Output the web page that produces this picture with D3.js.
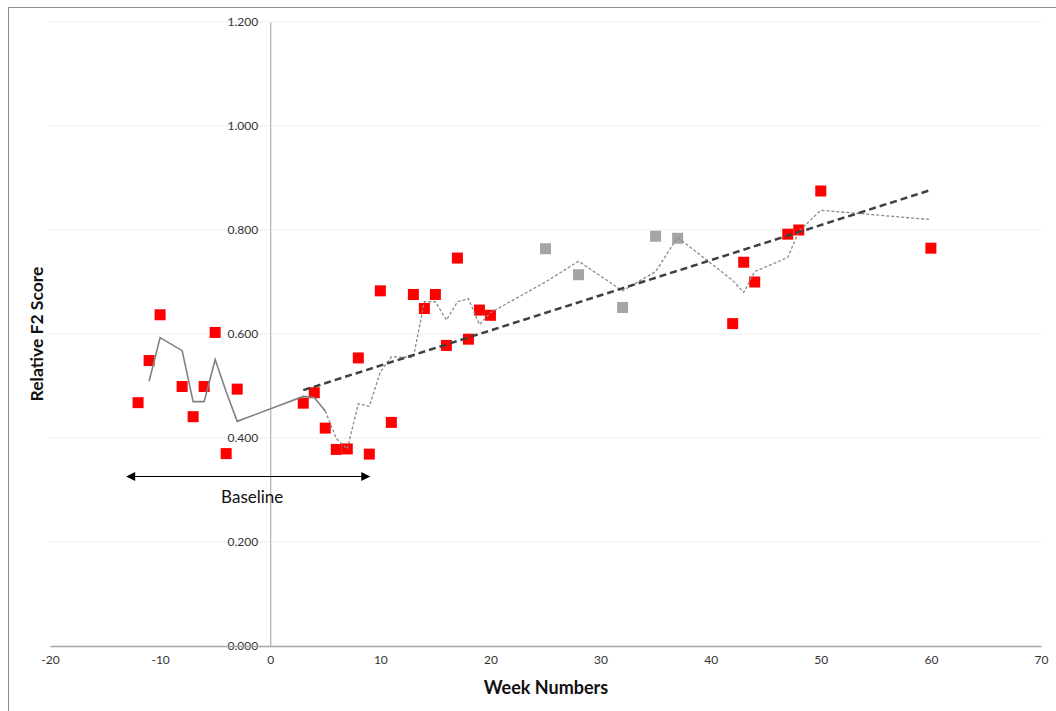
<!DOCTYPE html>
<html>
<head>
<meta charset="utf-8">
<script src="https://cdn.jsdelivr.net/npm/d3@7"></script>
<style>
  html, body { margin: 0; padding: 0; background: #fff; }
  svg { display: block; }
  text { font-family: Lato, "Open Sans", sans-serif; }
</style>
</head>
<body>
<svg id="chart" width="1056" height="711"></svg>
<script>
// ---- data ----
const redWeeks  = [-12, -11, -10, -8, -7, -6, -5, -4, -3, 3, 4, 5, 6, 7, 8, 9, 10, 11, 13, 14, 15, 16, 17, 18, 19, 20, 42, 43, 44, 47, 48, 50, 60];
const redValues = [0.468, 0.549, 0.637, 0.499, 0.441, 0.499, 0.603, 0.370, 0.494, 0.467, 0.487, 0.419, 0.378, 0.379, 0.554, 0.369, 0.683, 0.430, 0.676, 0.649, 0.676, 0.578, 0.746, 0.590, 0.646, 0.636, 0.620, 0.738, 0.700, 0.792, 0.800, 0.875, 0.765];

const grayWeeks  = [25, 28, 32, 35, 37];
const grayValues = [0.764, 0.714, 0.651, 0.788, 0.784];

const baselineAvgWeeks  = [-11, -10, -8, -7, -6, -5, -4, -3, 3, 4, 5];
const baselineAvgValues = [0.509, 0.593, 0.568, 0.470, 0.470, 0.551, 0.489, 0.432, 0.480, 0.478, 0.452];

const treatAvgWeeks  = [5, 6, 7, 8, 9, 10, 11, 13, 14, 15, 16, 17, 18, 19, 20, 25, 28, 32, 35, 37, 42, 43, 44, 47, 48, 50, 60];
const treatAvgValues = [0.452, 0.399, 0.379, 0.466, 0.461, 0.527, 0.556, 0.555, 0.662, 0.662, 0.627, 0.662, 0.668, 0.618, 0.641, 0.700, 0.740, 0.683, 0.720, 0.786, 0.703, 0.680, 0.720, 0.747, 0.797, 0.838, 0.820];

const trendWeeks  = [3, 60];
const trendValues = [0.492, 0.877];

const xTicks = [-20, -10, 0, 10, 20, 30, 40, 50, 60, 70];
const xTickLabels = ["-20", "-10", "0", "10", "20", "30", "40", "50", "60", "70"];
const yTicks = [0, 0.2, 0.4, 0.6, 0.8, 1.0, 1.2];
const yTickLabels = ["0.000", "0.200", "0.400", "0.600", "0.800", "1.000", "1.200"];

const baselineSpan = [-13, 9];   // arrow extent (weeks)
const baselineLevel = 0.326;     // arrow height (score)
const baselineLabel = "Baseline";

// ---- drawing ----
const svg = d3.select("#chart");
const x = d3.scaleLinear().domain([-20, 70]).range([50, 1041]);
const y = d3.scaleLinear().domain([0, 1.2]).range([646, 22]);

// outer frame
svg.append("rect").attr("x", 8.5).attr("y", 7.5).attr("width", 1080).attr("height", 740)
  .attr("fill", "none").attr("stroke", "#8c8c8c").attr("stroke-width", 1);

// gridlines
svg.append("g").selectAll("line").data(yTicks.filter(d => d > 0)).join("line")
  .attr("x1", x(-20)).attr("x2", x(70))
  .attr("y1", d => y(d)).attr("y2", d => y(d))
  .attr("stroke", "#e0e0e0").attr("stroke-width", 1).attr("stroke-dasharray", "1,1");

// y axis (at week 0)
const yAxis = svg.append("g").attr("transform", `translate(${x(0)},0)`)
  .call(d3.axisLeft(y).tickValues(yTicks).tickSize(0).tickPadding(12)
    .tickFormat((d, i) => yTickLabels[i]));
yAxis.select(".domain").attr("stroke", "#b0b0b0").attr("stroke-width", 1.2);
yAxis.selectAll("text").attr("font-size", 12).attr("fill", "#333")
  .style("font-family", "Lato, sans-serif");

// x axis (at 0)
const xAxis = svg.append("g").attr("transform", `translate(0,${y(0)})`)
  .call(d3.axisBottom(x).tickValues(xTicks).tickSize(0).tickPadding(9)
    .tickFormat((d, i) => xTickLabels[i]));
xAxis.select(".domain").attr("stroke", "#a6a6a6").attr("stroke-width", 1.6);
xAxis.selectAll("text").attr("font-size", 12).attr("fill", "#333")
  .style("font-family", "Lato, sans-serif");

// markers
const sq = 11;
svg.append("g").selectAll("rect").data(d3.range(redWeeks.length)).join("rect")
  .attr("x", i => x(redWeeks[i]) - sq / 2).attr("y", i => y(redValues[i]) - sq / 2)
  .attr("width", sq).attr("height", sq).attr("fill", "#ff0000");
svg.append("g").selectAll("rect").data(d3.range(grayWeeks.length)).join("rect")
  .attr("x", i => x(grayWeeks[i]) - sq / 2).attr("y", i => y(grayValues[i]) - sq / 2)
  .attr("width", sq).attr("height", sq).attr("fill", "#a5a5a5");

const line = d3.line().x(d => x(d[0])).y(d => y(d[1]));

svg.append("path").datum(d3.zip(baselineAvgWeeks, baselineAvgValues))
  .attr("d", line).attr("fill", "none").attr("stroke", "#808080").attr("stroke-width", 1.6);

svg.append("path").datum(d3.zip(treatAvgWeeks, treatAvgValues))
  .attr("d", line).attr("fill", "none").attr("stroke", "#8a8a8a").attr("stroke-width", 1.3)
  .attr("stroke-dasharray", "3,2");

svg.append("path").datum(d3.zip(trendWeeks, trendValues))
  .attr("d", line).attr("fill", "none").attr("stroke", "#404040").attr("stroke-width", 2.5)
  .attr("stroke-dasharray", "7,4");

// baseline arrow
const defs = svg.append("defs");
defs.append("marker").attr("id", "ah").attr("viewBox", "0 0 10 10").attr("refX", 9).attr("refY", 5)
  .attr("markerWidth", 10).attr("markerHeight", 9).attr("markerUnits", "userSpaceOnUse")
  .attr("orient", "auto-start-reverse")
  .append("path").attr("d", "M0,0 L10,5 L0,10 z").attr("fill", "#000");
svg.append("line")
  .attr("x1", x(baselineSpan[0])).attr("x2", x(baselineSpan[1]))
  .attr("y1", y(baselineLevel)).attr("y2", y(baselineLevel))
  .attr("stroke", "#000").attr("stroke-width", 1.2)
  .attr("marker-start", "url(#ah)").attr("marker-end", "url(#ah)");
svg.append("text").attr("x", (x(baselineSpan[0]) + x(baselineSpan[1])) / 2 + 4)
  .attr("y", y(baselineLevel) + 27).attr("text-anchor", "middle")
  .attr("font-size", 17).attr("fill", "#111").text(baselineLabel);

// axis titles
svg.append("text").attr("x", 546).attr("y", 694).attr("text-anchor", "middle")
  .attr("font-size", 18).attr("font-weight", "bold").attr("fill", "#111").text("Week Numbers");
svg.append("text").attr("transform", "translate(43,334) rotate(-90)").attr("text-anchor", "middle")
  .attr("font-size", 17.5).attr("font-weight", "bold").attr("fill", "#111").text("Relative F2 Score");
</script>
</body>
</html>
